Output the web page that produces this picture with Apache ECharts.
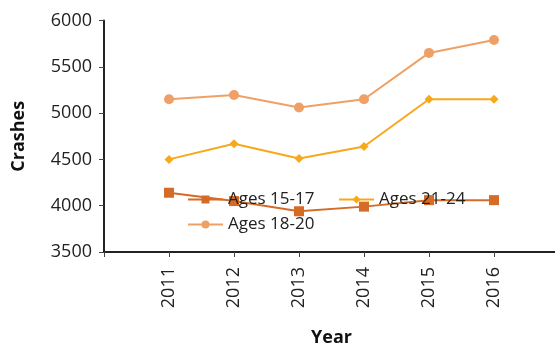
<!DOCTYPE html>
<html><head><meta charset="utf-8">
<script src="https://cdn.jsdelivr.net/npm/echarts@6/dist/echarts.min.js"></script>
<style>html,body{margin:0;padding:0;background:#fff}#c{width:555px;height:348px}</style>
</head><body><div id="c"></div>
<script>
const years = ['2011','2012','2013','2014','2015','2016'];
const ages1517 = [4140, 4050, 3940, 3990, 4060, 4060];
const ages1820 = [5150, 5195, 5060, 5150, 5650, 5790];
const ages2124 = [4500, 4670, 4510, 4640, 5150, 5150];
const yTicks = [3500, 4000, 4500, 5000, 5500, 6000];

const cats = [''].concat(years).concat(['']);
const pad = a => [null].concat(a);
const font = 'Open Sans';
const c1 = '#D46B27', c2 = '#EFA066', c3 = '#F7A81B';

const chart = echarts.init(document.getElementById('c'));
chart.setOption({
  animation: false,
  textStyle: {fontFamily: font},
  grid: {left: 104, top: 20.5, width: 455, height: 231.5, containLabel: false, outerBoundsMode: 'none'},
  legend: [{
    left: 187, top: 191, padding: 0, orient: 'vertical', itemWidth: 35, itemHeight: 10, itemGap: 8,
    textStyle: {fontFamily: font, fontSize: 17, color: '#222'},
    data: ['Ages 15-17', 'Ages 18-20']
  }, {
    left: 338, top: 191, padding: 0, orient: 'vertical', itemWidth: 35, itemHeight: 10,
    textStyle: {fontFamily: font, fontSize: 17, color: '#222'},
    data: ['Ages 21-24']
  }],
  xAxis: {
    type: 'category', data: cats, boundaryGap: false,
    name: 'Year', nameLocation: 'middle', nameGap: 77,
    nameTextStyle: {fontFamily: font, fontSize: 18, fontWeight: 'bold', color: '#111'},
    axisLine: {lineStyle: {color: '#222', width: 2}},
    axisTick: {show: true, length: 5, lineStyle: {color: '#444', width: 1}, alignWithLabel: true},
    axisLabel: {rotate: 90, margin: 15, fontSize: 18, color: '#222', interval: 0},
    splitLine: {show: false}
  },
  yAxis: {
    type: 'value', min: yTicks[0], max: yTicks[yTicks.length-1], interval: 500,
    name: 'Crashes', nameLocation: 'middle', nameGap: 76,
    nameTextStyle: {fontFamily: font, fontSize: 18, fontWeight: 'bold', color: '#111'},
    axisLine: {show: true, lineStyle: {color: '#222', width: 2}},
    axisTick: {show: true, length: 5, lineStyle: {color: '#444', width: 1}},
    axisLabel: {margin: 12, fontSize: 18, color: '#222', formatter: v => String(v)},
    splitLine: {show: false}
  },
  series: [
    {name: 'Ages 15-17', type: 'line', data: pad(ages1517), symbol: 'rect', symbolSize: 10,
     itemStyle: {color: c1}, lineStyle: {color: c1, width: 2}, z: 3},
    {name: 'Ages 18-20', type: 'line', data: pad(ages1820), symbol: 'circle', symbolSize: 10,
     itemStyle: {color: c2}, lineStyle: {color: c2, width: 2}},
    {name: 'Ages 21-24', type: 'line', data: pad(ages2124), symbol: 'diamond', symbolSize: 9,
     itemStyle: {color: c3}, lineStyle: {color: c3, width: 2}}
  ]
});
</script></body></html>
